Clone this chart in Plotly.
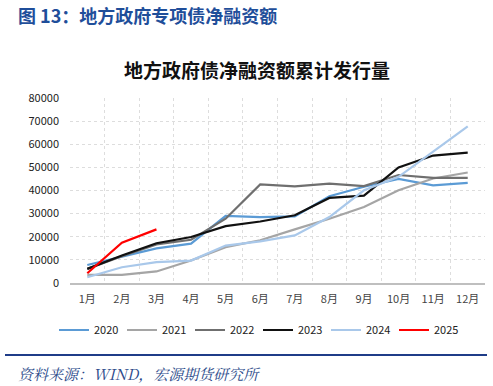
import plotly.graph_objects as go

months = ["1月", "2月", "3月", "4月", "5月", "6月", "7月", "8月", "9月", "10月", "11月", "12月"]
y2020 = [7800, 11500, 15000, 17000, 29000, 28500, 28800, 37500, 41600, 45000, 42200, 43300]
y2021 = [3500, 3500, 5000, 9700, 15500, 18500, 23200, 27800, 32900, 40100, 45200, 47800]
y2022 = [6100, 11600, 16700, 18700, 27800, 42600, 41800, 43000, 41900, 46700, 45500, 45500]
y2023 = [6100, 11900, 17200, 19900, 24600, 26600, 29300, 36800, 37800, 50000, 55100, 56400]
y2024 = [2500, 6800, 9000, 9700, 16200, 18000, 20600, 28500, 40100, 45900, 56800, 67700]
y2025 = [4200, 17400, 23200]

series = [
    ("2020", y2020, "#5B9BD5"),
    ("2021", y2021, "#A5A5A5"),
    ("2022", y2022, "#6F6F6F"),
    ("2023", y2023, "#111111"),
    ("2024", y2024, "#A9C8EA"),
    ("2025", y2025, "#FF0000"),
]

fig = go.Figure()
for name, vals, color in series:
    fig.add_trace(go.Scatter(
        x=months[:len(vals)], y=vals, name=name, mode="lines",
        line=dict(color=color, width=2.2),
    ))

L, R, T, B = 70, 8, 98, 103
W, H = 493, 386
pw, ph = W - L - R, H - T - B

def px(x):
    return (x - L) / pw

def py(y):
    return (H - B - y) / ph

fig.update_layout(
    width=W, height=H,
    margin=dict(l=L, r=R, t=T, b=B),
    paper_bgcolor="white", plot_bgcolor="white",
    font=dict(family="Noto Sans CJK SC, sans-serif", color="#222222", size=11),
    showlegend=True,
    legend=dict(
        orientation="h", xref="container", yref="container",
        x=258 / W, y=1 - 330 / H, xanchor="center", yanchor="middle",
        font=dict(size=11, color="#222222"),
        entrywidth=23, itemwidth=30,
        bgcolor="rgba(0,0,0,0)",
    ),
    xaxis=dict(
        type="category", categoryorder="array", categoryarray=months,
        range=[-0.5, 11.5],
        tickson="boundaries", ticks="", showgrid=True,
        gridcolor="#DDDDDD", griddash="dot", gridwidth=1,
        showline=True, linecolor="#BFBFBF", linewidth=2,
        tickfont=dict(size=11, color="#444444"),
        ticklabelstandoff=5,
    ),
    yaxis=dict(
        range=[0, 80000], dtick=10000, tickformat="d",
        showgrid=True, gridcolor="#DDDDDD", griddash="dot", gridwidth=1,
        zeroline=False, showline=False,
        tickfont=dict(size=11, color="#222222"),
        ticklabelstandoff=10,
    ),
    annotations=[
        dict(text="<b>图 13：地方政府专项债净融资额</b>", xref="paper", yref="paper",
             x=px(16), y=py(15), xanchor="left", yanchor="middle", showarrow=False,
             font=dict(size=18, color="#1F4E9A", family="Noto Sans CJK SC, sans-serif")),
        dict(text="<b>地方政府债净融资额累计发行量</b>", xref="paper", yref="paper",
             x=px(257), y=py(69), xanchor="center", yanchor="middle", showarrow=False,
             font=dict(size=19, color="#111111", family="Noto Sans CJK SC, sans-serif")),
        dict(text="<i>资料来源：WIND，宏源期货研究所</i>", xref="paper", yref="paper",
             x=px(16), y=py(373), xanchor="left", yanchor="middle", showarrow=False,
             font=dict(size=15, color="#2B4A8A", family="Noto Serif CJK SC, Noto Sans CJK SC, serif")),
    ],
    shapes=[
        dict(type="line", xref="paper", yref="paper",
             x0=px(5), x1=px(487), y0=py(355), y1=py(355),
             line=dict(color="#1F3C88", width=2)),
    ],
)

fig.write_html("out.html", config={"displayModeBar": False},
               post_script="document.body.style.margin='0px';document.body.style.overflow='hidden';")
